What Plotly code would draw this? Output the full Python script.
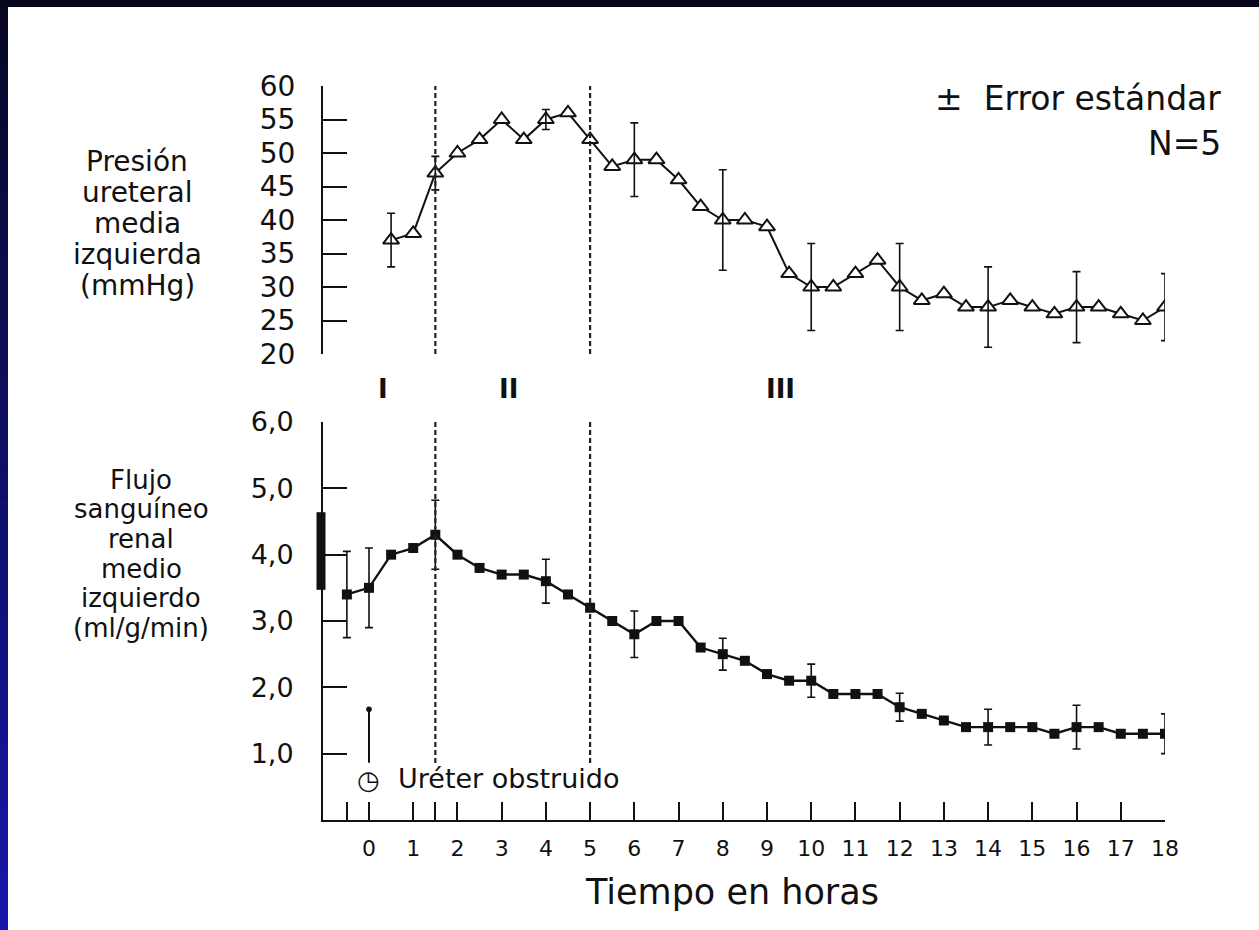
import plotly.graph_objects as go

# ---------------------------------------------------------
# Data
# ---------------------------------------------------------
# upper panel: mean left ureteral pressure (mmHg), every half hour
hours_top = [0.5, 1.0, 1.5, 2.0, 2.5, 3.0, 3.5, 4.0, 4.5, 5.0, 5.5, 6.0,
             6.5, 7.0, 7.5, 8.0, 8.5, 9.0, 9.5, 10.0, 10.5, 11.0, 11.5, 12.0,
             12.5, 13.0, 13.5, 14.0, 14.5, 15.0, 15.5, 16.0, 16.5, 17.0, 17.5, 18.0]
pressure = [37, 38, 47, 50, 52, 55, 52, 55, 56, 52, 48, 49,
            49, 46, 42, 40, 40, 39, 32, 30, 30, 32, 34, 30,
            28, 29, 27, 27, 28, 27, 26, 27, 27, 26, 25, 27]
pressure_err_hours = [0.5, 1.5, 4.0, 6.0, 8.0, 10.0, 12.0, 14.0, 16.0, 18.0]
pressure_err = [4.0, 2.5, 1.5, 5.5, 7.5, 6.5, 6.5, 6.0, 5.3, 5.0]

# lower panel: mean left renal blood flow (ml/g/min)
hours_bottom = [-0.5, 0.0, 0.5, 1.0, 1.5, 2.0, 2.5, 3.0, 3.5, 4.0, 4.5, 5.0,
                5.5, 6.0, 6.5, 7.0, 7.5, 8.0, 8.5, 9.0, 9.5, 10.0, 10.5, 11.0,
                11.5, 12.0, 12.5, 13.0, 13.5, 14.0, 14.5, 15.0, 15.5, 16.0,
                16.5, 17.0, 17.5, 18.0]
flow = [3.4, 3.5, 4.0, 4.1, 4.3, 4.0, 3.8, 3.7, 3.7, 3.6, 3.4, 3.2,
        3.0, 2.8, 3.0, 3.0, 2.6, 2.5, 2.4, 2.2, 2.1, 2.1, 1.9, 1.9,
        1.9, 1.7, 1.6, 1.5, 1.4, 1.4, 1.4, 1.4, 1.3, 1.4,
        1.4, 1.3, 1.3, 1.3]
flow_err_hours = [-0.5, 0.0, 1.5, 4.0, 6.0, 8.0, 10.0, 12.0, 14.0, 16.0, 18.0]
flow_err = [0.65, 0.6, 0.52, 0.33, 0.35, 0.24, 0.25, 0.21, 0.27, 0.33, 0.3]

normal_range = [3.47, 4.64]          # thick bar next to the flow axis
phase_bounds = [1.5, 5.0]            # dashed vertical lines
phase_labels = ["I", "II", "III"]
phase_label_hours = [0.32, 3.15, 9.3]
obstruction_hour = 0.0

x_tickvals = [-0.5, 0, 1, 1.5, 2, 3, 4, 5, 6, 7, 8, 9, 10, 11, 12, 13, 14, 15, 16, 17, 18]
x_ticktext = ["", "0", "1", "", "2", "3", "4", "5", "6", "7", "8", "9",
              "10", "11", "12", "13", "14", "15", "16", "17", "18"]
top_tickvals = [20, 25, 30, 35, 40, 45, 50, 55, 60]
bottom_tickvals = [1, 2, 3, 4, 5, 6]
bottom_ticktext = ["1,0", "2,0", "3,0", "4,0", "5,0", "6,0"]

top_title = ["Presión", "ureteral", "media", "izquierda", "(mmHg)"]
bottom_title = ["Flujo", "sanguíneo", "renal", "medio", "izquierdo", "(ml/g/min)"]

# ---------------------------------------------------------
# Page geometry (pixels)
# ---------------------------------------------------------
W, H = 1259, 930
L, R, T, B = 323, 1165, 86, 820
FONT = "DejaVu Sans"
INK = "#111111"


def px(x):
    return (x - L) / (R - L)


def py(y):
    return (B - y) / (B - T)


fig = go.Figure()

# ---------------------------------------------------------
# Traces
# ---------------------------------------------------------
fig.add_trace(go.Scatter(
    x=hours_top, y=pressure, xaxis="x2", yaxis="y2",
    mode="lines+markers",
    line=dict(color=INK, width=2),
    marker=dict(symbol="triangle-up", size=14, color="white",
                line=dict(color=INK, width=2)),
    showlegend=False,
))
p_lookup = dict(zip(hours_top, pressure))
fig.add_trace(go.Scatter(
    x=pressure_err_hours, y=[p_lookup[h] for h in pressure_err_hours],
    xaxis="x2", yaxis="y2", mode="markers",
    marker=dict(size=1, color="rgba(0,0,0,0)"),
    error_y=dict(type="data", array=pressure_err, color=INK, thickness=1.6, width=4),
    showlegend=False,
))

f_lookup = dict(zip(hours_bottom, flow))
fig.add_trace(go.Scatter(
    x=flow_err_hours, y=[f_lookup[h] for h in flow_err_hours],
    xaxis="x", yaxis="y", mode="markers",
    marker=dict(size=1, color="rgba(0,0,0,0)"),
    error_y=dict(type="data", array=flow_err, color=INK, thickness=1.6, width=4),
    showlegend=False,
))
fig.add_trace(go.Scatter(
    x=hours_bottom, y=flow, xaxis="x", yaxis="y",
    mode="lines+markers",
    line=dict(color=INK, width=2.4),
    marker=dict(symbol="square", size=10, color=INK),
    showlegend=False,
))

# ---------------------------------------------------------
# Shapes: page frame, dashed phase lines, normal range bar
# ---------------------------------------------------------
shapes = [dict(type="rect", xref="paper", yref="paper",
               x0=px(0), x1=px(W), y0=py(7), y1=py(0),
               fillcolor="#06061c", line_width=0, layer="below")]
n_bands = 30
c_top, c_bot = (8, 8, 38), (22, 22, 168)
for i in range(n_bands):
    t = i / (n_bands - 1)
    c = tuple(round(a + (b - a) * t) for a, b in zip(c_top, c_bot))
    y_a = 7 + (H - 7) * i / n_bands
    y_b = 7 + (H - 7) * (i + 1) / n_bands + 1
    shapes.append(dict(type="rect", xref="paper", yref="paper",
                       x0=px(0), x1=px(8), y0=py(y_b), y1=py(y_a),
                       fillcolor="rgb(%d,%d,%d)" % c, line_width=0, layer="below"))

for xv in phase_bounds:
    shapes.append(dict(type="line", xref="x2", yref="y2", x0=xv, x1=xv, y0=20, y1=60,
                       line=dict(color="#222222", width=2.2, dash="5px,3px")))
    shapes.append(dict(type="line", xref="x", yref="y", x0=xv, x1=xv, y0=0.86, y1=6,
                       line=dict(color="#222222", width=2.2, dash="5px,3px")))

shapes.append(dict(type="line", xref="paper", yref="y", x0=px(321), x1=px(321),
                   y0=normal_range[0], y1=normal_range[1],
                   line=dict(color=INK, width=9)))

# ---------------------------------------------------------
# Annotations
# ---------------------------------------------------------
annotations = []
for i, line in enumerate(top_title):
    annotations.append(dict(text=line, xref="paper", yref="paper",
                            x=px(137), y=py(161 + i * 31), showarrow=False,
                            xanchor="center", yanchor="middle",
                            font=dict(family=FONT, size=28, color=INK)))
for i, line in enumerate(bottom_title):
    annotations.append(dict(text=line, xref="paper", yref="paper",
                            x=px(141), y=py(480 + i * 29.5), showarrow=False,
                            xanchor="center", yanchor="middle",
                            font=dict(family=FONT, size=26, color=INK)))

for lab, xv in zip(phase_labels, phase_label_hours):
    annotations.append(dict(text="<b>%s</b>" % lab, xref="x", yref="paper",
                            x=xv, y=py(389), showarrow=False,
                            xanchor="center", yanchor="middle",
                            font=dict(family=FONT, size=26, color=INK)))

annotations.append(dict(text="±  Error estándar", xref="paper", yref="paper",
                        x=px(1223), y=py(99), showarrow=False,
                        xanchor="right", yanchor="middle",
                        font=dict(family=FONT, size=33, color=INK)))
annotations.append(dict(text="N=5", xref="paper", yref="paper",
                        x=px(1223), y=py(144), showarrow=False,
                        xanchor="right", yanchor="middle",
                        font=dict(family=FONT, size=33, color=INK)))
annotations.append(dict(text="Tiempo en horas", xref="paper", yref="paper",
                        x=px(732), y=py(892), showarrow=False,
                        xanchor="center", yanchor="middle",
                        font=dict(family=FONT, size=35, color=INK)))

# ureter obstruction marker
annotations.append(dict(text="", xref="x", yref="y", x=obstruction_hour, y=1.67,
                        ax=0, ay=55, showarrow=True, arrowhead=6, arrowsize=0.7,
                        arrowwidth=2, arrowcolor=INK))
annotations.append(dict(text="◷", xref="x", yref="y", x=obstruction_hour, y=0.61,
                        showarrow=False, xanchor="center", yanchor="middle",
                        font=dict(family=FONT, size=26, color=INK)))
annotations.append(dict(text="Uréter obstruido", xref="x", yref="y", x=0.62, y=0.63,
                        showarrow=False, xanchor="left", yanchor="middle",
                        font=dict(family=FONT, size=27, color=INK)))

# ---------------------------------------------------------
# Layout
# ---------------------------------------------------------
axis_common = dict(showgrid=False, zeroline=False, showline=True,
                   linecolor=INK, linewidth=2, ticks="inside",
                   tickcolor=INK, tickwidth=2)

fig.update_layout(
    width=W, height=H,
    margin=dict(l=L, r=W - R, t=T, b=H - B, pad=0),
    paper_bgcolor="white",
    plot_bgcolor="rgba(0,0,0,0)",
    font=dict(family=FONT, color=INK),
    xaxis=dict(axis_common, domain=[0, 1], range=[-1.04, 18], anchor="y",
               tickvals=x_tickvals, ticktext=x_ticktext, ticklen=18,
               tickfont=dict(family=FONT, size=22, color=INK),
               ticklabelstandoff=8),
    xaxis2=dict(domain=[0, 1], range=[-1.04, 18], anchor="y2", matches="x",
                visible=False),
    yaxis=dict(axis_common, domain=[0, py(422)], range=[0, 6], anchor="x",
               tickvals=bottom_tickvals, ticktext=bottom_ticktext, ticklen=24,
               tickfont=dict(family=FONT, size=27, color=INK),
               ticklabelstandoff=22),
    yaxis2=dict(axis_common, domain=[py(354), 1], range=[20, 60], anchor="x2",
                tickvals=top_tickvals, ticklen=24,
                tickfont=dict(family=FONT, size=28, color=INK),
                ticklabelstandoff=20),
    shapes=shapes,
    annotations=annotations,
)

# the page body has a default 8px margin; drop it so the figure fills the window
fig.write_html("out.html", config={"displayModeBar": False},
               post_script="document.body.style.margin='0';")
